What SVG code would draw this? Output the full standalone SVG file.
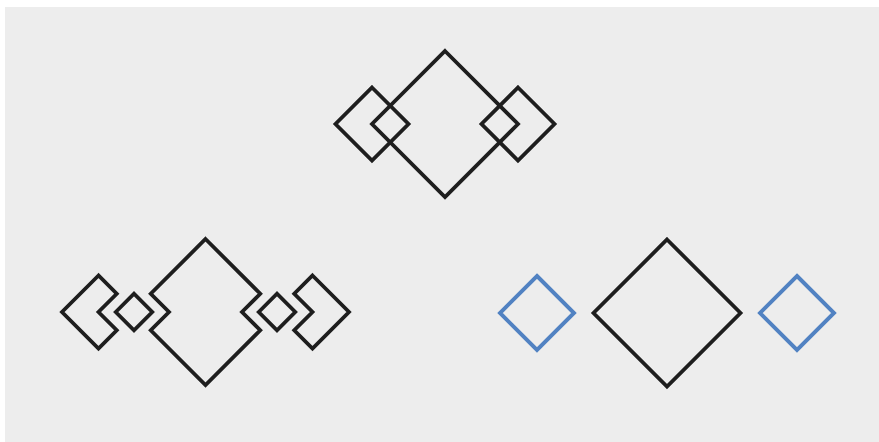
<svg xmlns="http://www.w3.org/2000/svg" width="879" height="442" viewBox="0 0 879 442">
<style>
.k{fill:none;stroke:#1e1e1e;stroke-width:3.8;stroke-linejoin:miter}
.b{fill:none;stroke:#5182c2;stroke-width:3.9;stroke-linejoin:miter}
</style>
<rect x="0" y="0" width="879" height="442" fill="#ffffff"/>
<rect x="5" y="7" width="874" height="435" fill="#ededed"/>
<g id="top">
  <path id="top-big" class="k" d="M445,51 L518,124 L445,197 L372,124 Z"/>
  <path id="top-left" class="k" d="M372,87.5 L408.5,124 L372,160.5 L335.5,124 Z"/>
  <path id="top-right" class="k" d="M518,87.5 L554.5,124 L518,160.5 L481.5,124 Z"/>
</g>
<g id="exploded">
  <path id="ex-big" class="k" d="M205.5,239 L260.25,293.75 L242,312 L260.25,330.25 L205.5,385 L150.75,330.25 L169,312 L150.75,293.75 Z"/>
  <path id="ex-int-left" class="k" d="M115.75,312 L134,293.75 L152.25,312 L134,330.25 Z"/>
  <path id="ex-int-right" class="k" d="M258.75,312 L277,293.75 L295.25,312 L277,330.25 Z"/>
  <path id="ex-left" class="k" d="M98.5,275.5 L62,312 L98.5,348.5 L116.75,330.25 L98.5,312 L116.75,293.75 Z"/>
  <path id="ex-right" class="k" d="M312.5,275.5 L349,312 L312.5,348.5 L294.25,330.25 L312.5,312 L294.25,293.75 Z"/>
</g>
<g id="separate">
  <path id="sep-big" class="k" d="M667,239.5 L740.5,313 L667,386.5 L593.5,313 Z"/>
  <path id="sep-left" class="b" d="M537,276 L574,313 L537,350 L500,313 Z"/>
  <path id="sep-right" class="b" d="M797,276 L834,313 L797,350 L760,313 Z"/>
</g>
</svg>
